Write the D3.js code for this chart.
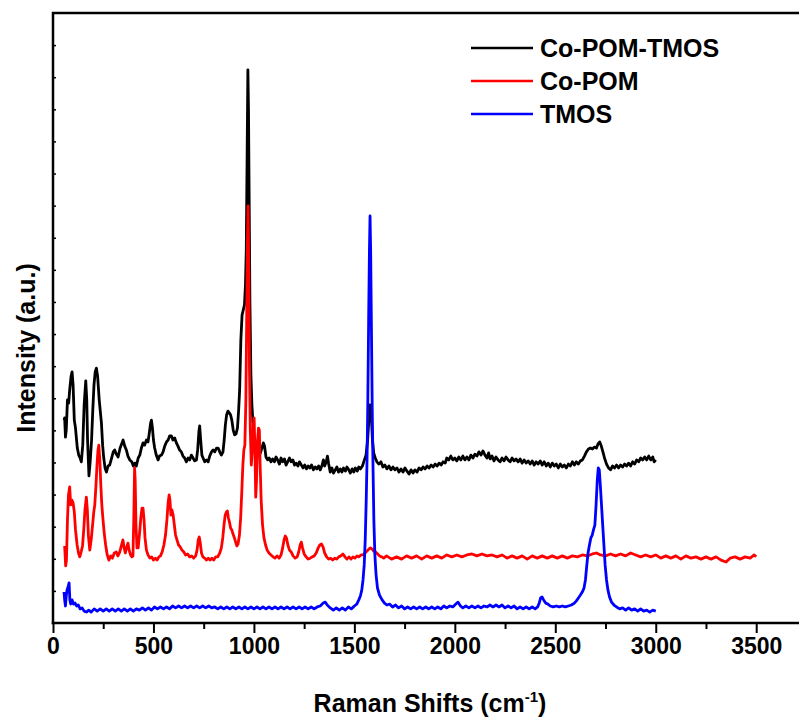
<!DOCTYPE html>
<html>
<head>
<meta charset="utf-8">
<script src="https://cdn.jsdelivr.net/npm/d3@7"></script>
<style>
  html, body { margin: 0; padding: 0; background: #fff; }
  svg { display: block; font-family: "Liberation Sans", Arial, sans-serif; }
</style>
</head>
<body>
<svg id="chart" width="799" height="719"></svg>
<script>
// Raman spectra: [shift (cm-1), intensity (a.u.)]
const coPomTmos = [
  [55,632],[58,639],[62,579],[66,601],[72,695],[78,685],[83,726],[90,769],[95,782],[100,741],
  [106,632],[112,607],[121,545],[128,523],[135,514],[141,502],[148,554],[155,679],[163,754],[168,695],
  [172,570],[179,458],[185,502],[192,570],[198,663],[204,741],[210,782],[216,794],[222,769],[230,695],
  [241,623],[247,554],[252,517],[259,483],[266,470],[274,489],[282,492],[292,514],[300,533],[307,539],
  [315,526],[324,517],[334,545],[342,558],[349,570],[357,551],[365,539],[373,520],[382,508],[392,502],
  [400,489],[407,498],[415,489],[424,514],[432,523],[440,545],[448,561],[456,554],[465,570],[473,564],
  [480,595],[486,623],[490,632],[495,607],[500,570],[506,545],[514,523],[523,508],[530,520],[540,523],
  [548,533],[556,551],[565,564],[573,570],[581,583],[589,583],[597,570],[606,576],[614,561],[622,551],
  [630,539],[639,533],[647,520],[655,514],[664,502],[672,514],[680,508],[689,523],[697,514],[705,505],
  [714,508],[720,539],[726,595],[730,614],[735,570],[741,523],[747,514],[755,502],[764,508],[772,502],
  [780,520],[789,533],[797,539],[805,533],[814,545],[822,545],[830,533],[838,523],[846,533],[852,570],
  [858,617],[864,648],[871,660],[878,654],[884,648],[890,632],[897,601],[904,586],[911,589],[918,607],
  [924,663],[929,726],[935,882],[941,959],[947,975],[953,991],[958,1053],[962,1162],[966,1442],[970,1723],
  [973,1598],[976,1349],[980,1006],[985,773],[990,679],[996,617],[1004,545],[1012,526],[1020,520],[1030,526],
  [1040,545],[1047,561],[1053,551],[1060,517],[1068,508],[1076,514],[1085,502],[1093,511],[1102,502],[1110,517],
  [1118,508],[1127,495],[1135,514],[1143,502],[1152,511],[1160,492],[1168,502],[1177,514],[1185,502],[1194,508],
  [1202,492],[1210,498],[1219,489],[1227,502],[1236,492],[1245,483],[1253,492],[1262,480],[1270,489],[1279,483],
  [1287,492],[1296,477],[1305,486],[1313,480],[1322,489],[1330,477],[1338,489],[1346,508],[1352,489],[1360,502],
  [1366,520],[1372,495],[1380,470],[1388,483],[1396,467],[1405,477],[1413,486],[1421,470],[1430,480],[1438,470],
  [1446,483],[1455,473],[1463,486],[1472,477],[1480,467],[1489,480],[1497,470],[1505,483],[1514,473],[1522,486],
  [1530,480],[1540,489],[1550,508],[1558,523],[1566,570],[1572,632],[1578,679],[1584,648],[1590,570],[1596,530],
  [1604,514],[1612,502],[1622,495],[1632,502],[1642,486],[1652,492],[1662,480],[1672,489],[1682,477],[1692,486],
  [1702,477],[1712,483],[1722,470],[1732,480],[1742,470],[1752,483],[1762,473],[1772,464],[1782,477],[1792,467],
  [1802,477],[1812,470],[1822,483],[1832,477],[1842,486],[1852,480],[1862,489],[1872,483],[1882,492],[1892,486],
  [1902,495],[1912,489],[1922,498],[1932,492],[1942,502],[1952,498],[1960,514],[1970,508],[1980,520],[1990,508],
  [2000,514],[2010,505],[2020,517],[2030,508],[2040,520],[2050,508],[2060,517],[2070,508],[2080,523],[2090,514],
  [2100,526],[2110,520],[2120,533],[2130,523],[2140,536],[2150,523],[2160,514],[2168,530],[2176,511],[2185,520],
  [2195,505],[2205,517],[2215,508],[2225,502],[2235,514],[2245,505],[2255,517],[2265,508],[2275,502],[2285,514],
  [2295,505],[2305,511],[2315,502],[2325,511],[2335,498],[2345,508],[2355,498],[2365,505],[2375,495],[2385,505],
  [2395,492],[2405,502],[2415,495],[2425,505],[2435,492],[2445,502],[2455,489],[2465,498],[2475,486],[2485,498],
  [2495,489],[2505,495],[2515,483],[2525,495],[2535,486],[2545,492],[2555,483],[2565,495],[2575,489],[2585,502],
  [2595,492],[2605,502],[2615,495],[2625,505],[2635,508],[2645,520],[2655,533],[2665,542],[2675,545],[2685,542],
  [2695,548],[2705,545],[2713,558],[2721,564],[2729,551],[2737,533],[2745,514],[2755,495],[2765,483],[2775,477],
  [2785,489],[2795,483],[2805,492],[2815,483],[2825,492],[2835,486],[2845,495],[2855,489],[2865,498],[2875,489],
  [2885,502],[2895,495],[2905,508],[2915,502],[2925,514],[2935,508],[2945,517],[2955,508],[2965,520],[2975,508],
  [2985,517],[2992,502],[3000,508]
];

const coPom = [
  [58,240],[63,178],[67,196],[72,321],[77,399],[83,424],[88,368],[94,383],[100,374],[106,346],
  [112,290],[120,243],[127,218],[133,206],[140,221],[147,240],[153,290],[159,352],[166,392],[171,352],
  [176,274],[183,227],[190,259],[197,305],[203,346],[208,368],[214,430],[219,492],[224,539],[228,554],
  [233,508],[238,430],[243,368],[249,321],[255,280],[262,243],[270,212],[278,196],[287,209],[296,202],
  [305,218],[315,221],[323,209],[332,221],[340,240],[348,259],[354,234],[360,218],[366,234],[373,249],
  [379,227],[386,212],[393,206],[398,209],[402,321],[406,483],[409,445],[413,305],[418,234],[424,234],
  [430,274],[437,327],[443,358],[448,358],[453,321],[458,265],[465,227],[473,212],[482,202],[491,206],
  [500,196],[509,202],[518,196],[527,206],[535,209],[543,221],[552,243],[560,274],[567,321],[573,374],
  [578,399],[582,383],[587,336],[592,352],[598,336],[604,305],[610,274],[617,259],[625,243],[633,237],
  [642,227],[651,221],[660,212],[670,215],[680,206],[690,209],[700,202],[710,209],[717,227],[723,259],
  [728,268],[733,249],[739,218],[746,206],[755,202],[764,196],[773,202],[782,196],[791,202],[800,196],
  [810,206],[820,206],[830,218],[838,234],[845,265],[851,305],[857,336],[863,346],[868,349],[873,327],
  [878,315],[884,296],[890,290],[896,277],[903,265],[909,252],[915,240],[921,246],[928,274],[934,327],
  [940,414],[945,492],[950,539],[955,554],[960,695],[964,944],[968,1193],[971,1299],[974,1131],[978,788],
  [982,601],[987,492],[992,539],[997,617],[1001,639],[1005,539],[1009,392],[1013,445],[1018,570],[1023,607],
  [1027,601],[1031,492],[1036,383],[1043,305],[1050,265],[1058,243],[1066,227],[1075,218],[1085,212],[1095,206],
  [1105,202],[1115,209],[1125,202],[1135,212],[1143,234],[1150,259],[1156,271],[1162,265],[1169,243],[1177,227],
  [1186,221],[1195,209],[1205,202],[1215,206],[1223,221],[1230,243],[1236,252],[1242,234],[1250,215],[1260,206],
  [1270,199],[1280,202],[1290,206],[1300,209],[1310,218],[1320,234],[1328,243],[1336,246],[1344,237],[1352,218],
  [1362,206],[1372,199],[1382,202],[1392,196],[1402,202],[1412,199],[1422,206],[1432,209],[1443,215],[1453,206],
  [1463,199],[1473,206],[1483,199],[1493,206],[1503,202],[1513,209],[1523,206],[1533,212],[1543,212],[1553,218],
  [1563,224],[1573,231],[1580,234],[1588,231],[1596,224],[1606,221],[1616,215],[1626,209],[1636,206],[1646,202],
  [1660,209],[1685,199],[1710,206],[1735,199],[1760,209],[1785,202],[1810,209],[1835,199],[1860,209],[1885,202],
  [1910,209],[1935,202],[1960,212],[1985,206],[2010,212],[2035,206],[2060,212],[2085,215],[2110,209],[2135,215],
  [2160,209],[2185,212],[2210,206],[2235,212],[2260,202],[2285,209],[2310,202],[2335,209],[2360,199],[2385,209],
  [2410,202],[2435,209],[2460,202],[2485,209],[2510,202],[2535,209],[2560,202],[2585,209],[2610,206],[2635,212],
  [2660,209],[2685,215],[2705,218],[2725,212],[2750,209],[2775,215],[2800,209],[2825,215],[2850,209],[2875,218],
  [2900,212],[2925,206],[2950,212],[2975,206],[3000,212],[3025,202],[3050,209],[3075,202],[3100,209],[3125,199],
  [3150,209],[3175,202],[3200,206],[3225,199],[3250,206],[3275,199],[3300,206],[3325,196],[3350,190],[3370,202],
  [3395,206],[3420,199],[3445,206],[3470,202],[3490,212],[3500,206]
];

const tmos = [
  [55,97],[58,72],[62,53],[66,84],[70,103],[75,112],[80,125],[84,72],[88,59],[95,72],
  [102,59],[110,62],[118,53],[126,56],[135,44],[145,47],[155,37],[166,34],[178,40],[190,34],
  [205,44],[220,37],[235,44],[250,37],[265,44],[280,37],[295,44],[310,37],[325,44],[340,37],
  [355,44],[370,37],[385,44],[400,37],[415,44],[430,40],[445,47],[460,40],[475,47],[490,40],
  [505,50],[520,44],[535,50],[550,44],[565,50],[580,44],[595,53],[610,47],[625,53],[640,47],
  [655,53],[670,47],[685,53],[700,47],[715,53],[730,47],[745,53],[760,47],[775,53],[790,47],
  [805,50],[820,44],[835,50],[850,44],[865,50],[880,44],[895,50],[910,44],[925,50],[940,44],
  [955,50],[970,44],[985,50],[1000,44],[1015,50],[1030,44],[1045,50],[1060,44],[1075,50],[1090,44],
  [1105,50],[1120,44],[1135,50],[1150,44],[1165,50],[1180,44],[1195,50],[1210,44],[1225,50],[1240,44],
  [1255,50],[1270,44],[1285,50],[1300,44],[1315,50],[1330,53],[1345,62],[1355,65],[1365,56],[1380,47],
  [1395,40],[1410,47],[1425,40],[1440,47],[1455,40],[1470,50],[1485,44],[1500,53],[1512,59],[1522,72],
  [1530,84],[1537,103],[1543,134],[1549,181],[1554,259],[1559,383],[1563,508],[1567,695],[1571,944],[1575,1162],
  [1578,1268],[1581,1162],[1585,913],[1589,663],[1593,477],[1597,321],[1602,212],[1608,150],[1615,109],[1625,87],
  [1638,72],[1650,62],[1662,56],[1675,59],[1690,50],[1705,56],[1720,47],[1735,53],[1750,44],[1765,50],
  [1780,44],[1795,50],[1810,44],[1825,50],[1840,44],[1855,50],[1870,44],[1885,50],[1900,44],[1915,50],
  [1930,44],[1945,53],[1960,47],[1975,53],[1990,50],[2005,59],[2016,65],[2028,53],[2040,47],[2055,53],
  [2070,47],[2085,53],[2100,47],[2115,53],[2130,47],[2145,53],[2160,50],[2175,56],[2190,50],[2205,56],
  [2220,50],[2235,56],[2250,47],[2265,53],[2280,47],[2295,53],[2310,44],[2325,50],[2340,44],[2355,50],
  [2370,44],[2385,50],[2400,44],[2412,50],[2420,62],[2427,78],[2434,81],[2442,72],[2452,62],[2463,59],
  [2475,53],[2490,50],[2505,53],[2520,50],[2535,53],[2550,50],[2565,53],[2580,56],[2595,62],[2605,69],
  [2615,78],[2625,87],[2635,97],[2643,109],[2650,134],[2657,181],[2663,218],[2670,243],[2677,265],[2684,274],
  [2690,290],[2697,305],[2703,368],[2709,445],[2714,483],[2719,477],[2724,430],[2730,368],[2736,305],[2742,243],
  [2748,181],[2755,134],[2762,103],[2770,81],[2780,65],[2792,56],[2805,50],[2820,44],[2835,47],[2850,40],
  [2865,47],[2880,40],[2895,44],[2910,37],[2925,44],[2940,37],[2955,40],[2970,34],[2985,40],[3000,37]
];

const seriesNames = ["Co-POM-TMOS", "Co-POM", "TMOS"];
const seriesColors = ["#000000", "#ff0000", "#0000ff"];
const majorTicks = [0, 500, 1000, 1500, 2000, 2500, 3000, 3500];
const minorTicks = [250, 750, 1250, 1750, 2250, 2750, 3250];
const yTicks = d3.range(100, 1900, 100);

const svg = d3.select("#chart");
const margin = { left: 53, top: 13, bottom: 623, right: 799 };

const x = d3.scaleLinear().domain([0, 3713]).range([margin.left, margin.right]);
const y = d3.scaleLinear().domain([0, 1900]).range([margin.bottom, margin.top]);

// spectra, drawn so the TMOS band sits on top
const line = d3.line().x(d => x(d[0])).y(d => y(d[1]));
const spectra = [coPomTmos, coPom, tmos];
svg.append("g").selectAll("path").data(spectra).join("path")
  .attr("d", line)
  .attr("fill", "none")
  .attr("stroke", (d, i) => seriesColors[i])
  .attr("stroke-width", 2.8)
  .attr("stroke-linejoin", "round");

// x axis: major labelled ticks and minor ticks
const xMajor = d3.axisBottom(x).tickValues(majorTicks).tickFormat(d3.format("d")).tickSize(10).tickSizeOuter(0).tickPadding(5);
const xMinor = d3.axisBottom(x).tickValues(minorTicks).tickFormat("").tickSize(6).tickSizeOuter(0);
const gxMinor = svg.append("g").attr("transform", `translate(0,${margin.bottom})`).call(xMinor);
const gx = svg.append("g").attr("transform", `translate(0,${margin.bottom})`).call(xMajor);
[gx, gxMinor].forEach(g => {
  g.select(".domain").remove();
  g.selectAll(".tick line").attr("stroke", "#000").attr("stroke-width", 2);
});
gx.selectAll(".tick text")
  .attr("fill", "#000")
  .style("font-size", "23px")
  .style("font-weight", "bold")
  .style("font-family", "'Liberation Sans', Arial, sans-serif");

// y axis: small inward ticks, no labels
const gy = svg.append("g").attr("transform", `translate(${margin.left},0)`)
  .call(d3.axisLeft(y).tickValues(yTicks).tickFormat("").tickSize(-3).tickSizeOuter(0));
gy.select(".domain").remove();
gy.selectAll(".tick line").attr("stroke", "#000").attr("stroke-width", 1.5);

// frame lines: left, bottom, top
const frame = svg.append("g").attr("stroke", "#000").attr("stroke-width", 2.5).attr("fill", "none");
frame.append("path").attr("d", `M${margin.left},${margin.bottom}V${margin.top}H${margin.right + 2}`).attr("stroke-linecap", "square");
frame.append("path").attr("d", `M${margin.left},${margin.bottom}H${margin.right + 2}`).attr("stroke-linecap", "square");

// axis titles
const xt = svg.append("text")
  .attr("x", 430).attr("y", 712)
  .attr("text-anchor", "middle")
  .style("font-size", "25px").style("font-weight", "bold");
xt.append("tspan").text("Raman Shifts (cm");
xt.append("tspan").attr("dy", -10).style("font-size", "15px").text("-1");
xt.append("tspan").attr("dy", 10).text(")");

svg.append("text")
  .attr("transform", "translate(35,348) rotate(-90)")
  .attr("text-anchor", "middle")
  .style("font-size", "25px").style("font-weight", "bold")
  .text("Intensity (a.u.)");

// legend
const legend = svg.append("g").attr("transform", "translate(471,48)");
const rows = legend.selectAll("g").data(seriesNames).join("g")
  .attr("transform", (d, i) => `translate(0,${i * 33})`);
rows.append("line").attr("x1", 0).attr("x2", 62).attr("y1", 0).attr("y2", 0)
  .attr("stroke", (d, i) => seriesColors[i]).attr("stroke-width", 2.6);
rows.append("text").attr("x", 69).attr("y", 9)
  .style("font-size", "25px").style("font-weight", "bold")
  .text(d => d);
</script>
</body>
</html>
